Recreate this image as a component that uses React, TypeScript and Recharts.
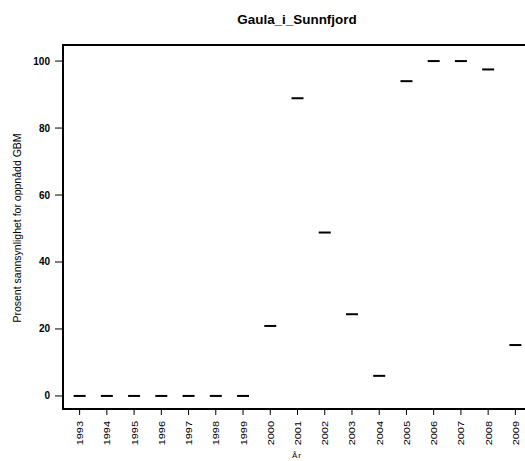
import React from "react";
import {
  ScatterChart,
  Scatter,
  XAxis,
  YAxis,
  ReferenceArea,
  Customized,
} from "recharts";

const years = [1993, 1994, 1995, 1996, 1997, 1998, 1999, 2000, 2001, 2002, 2003, 2004, 2005, 2006, 2007, 2008, 2009];
const values = [0, 0, 0, 0, 0, 0, 0, 20.9, 88.9, 48.8, 24.4, 6.0, 94.0, 100, 100, 97.5, 15.2];
const yTicks = [0, 20, 40, 60, 80, 100];
const title = "Gaula_i_Sunnfjord";
const xTitle = "År";
const yTitle = "Prosent sannsynlighet for oppnådd GBM";

const data = years.map((y, i) => ({ year: y, value: values[i] }));

const FONT = "'Liberation Sans', Arial, sans-serif";
const X_DOMAIN: [number, number] = [1992.39, 2009.61];
const Y_DOMAIN: [number, number] = [-3.9, 104.8];

const Dash = (props: any) => {
  const { cx, cy } = props;
  return <line x1={cx - 6} x2={cx + 6} y1={cy} y2={cy} stroke="#000" strokeWidth={2} />;
};

const XTick = (props: any) => {
  const { x, y, payload } = props;
  return (
    <text
      x={0}
      y={0}
      transform={`translate(${x + 3.5},${y + 1}) rotate(-90) scale(1.22,1)`}
      textAnchor="end"
      fontSize={9}
      fontFamily={FONT}
      fill="#000"
    >
      {payload.value}
    </text>
  );
};

const YTick = (props: any) => {
  const { x, y, payload } = props;
  return (
    <text x={x} y={y + 3.5} textAnchor="end" fontSize={10} fontWeight="bold" fontFamily={FONT} fill="#000">
      {payload.value}
    </text>
  );
};

const Texts = () => (
  <g fontFamily={FONT} fill="#000">
    <text x={0} y={0} transform="translate(297,24) scale(1.12,1)" textAnchor="middle" fontSize={12} fontWeight="bold">
      {title}
    </text>
    <text x={297} y={458} textAnchor="middle" fontSize={8} letterSpacing={1}>
      {xTitle}
    </text>
    <text x={0} y={0} transform="translate(21,228) rotate(-90)" textAnchor="middle" fontSize={10.5}>
      {yTitle}
    </text>
  </g>
);

export default function App() {
  return (
    <div style={{ position: "absolute", left: 0, top: 0, width: 525, height: 461, overflow: "hidden", background: "#fff" }}>
      <ScatterChart width={540} height={461} margin={{ top: 45, right: 8, bottom: 0, left: 0 }}>
        <XAxis
          dataKey="year"
          type="number"
          domain={X_DOMAIN}
          ticks={years}
          interval={0}
          axisLine={false}
          tickLine={{ stroke: "#000", strokeWidth: 1 }}
          tickSize={6}
          tickMargin={5}
          height={52}
          tick={<XTick />}
          allowDataOverflow
        />
        <YAxis
          dataKey="value"
          type="number"
          domain={Y_DOMAIN}
          ticks={yTicks}
          interval={0}
          axisLine={false}
          tickLine={{ stroke: "#000", strokeWidth: 1 }}
          tickSize={8}
          tickMargin={5}
          width={63}
          tick={<YTick />}
          allowDataOverflow
        />
        <ReferenceArea
          x1={X_DOMAIN[0]}
          x2={X_DOMAIN[1]}
          y1={Y_DOMAIN[0]}
          y2={Y_DOMAIN[1]}
          fill="none"
          stroke="#000"
          strokeWidth={2}
          ifOverflow="visible"
        />
        <Scatter data={data} shape={<Dash />} isAnimationActive={false} />
        <Customized component={<Texts />} />
      </ScatterChart>
    </div>
  );
}
